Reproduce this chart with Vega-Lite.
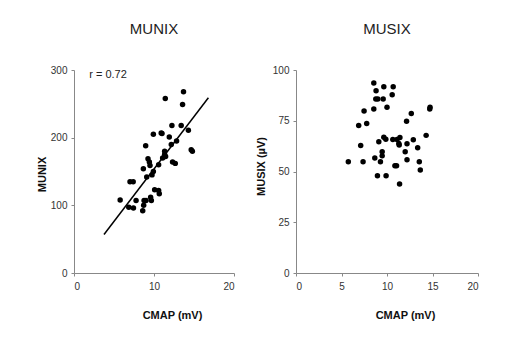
{
  "$schema": "https://vega.github.io/schema/vega-lite/v6.json",
  "background": "white",
  "padding": {"left": 36, "top": 22, "right": 10, "bottom": 10},
  "spacing": 20,
  "datasets": {
    "munix": [
      {"cmap": 5.77, "munix": 108}, {"cmap": 6.85, "munix": 97}, {"cmap": 7.43, "munix": 96},
      {"cmap": 7.0, "munix": 135}, {"cmap": 7.4, "munix": 135}, {"cmap": 7.76, "munix": 107},
      {"cmap": 8.59, "munix": 92}, {"cmap": 8.71, "munix": 100}, {"cmap": 8.76, "munix": 107},
      {"cmap": 9.0, "munix": 107}, {"cmap": 8.67, "munix": 154}, {"cmap": 8.96, "munix": 188},
      {"cmap": 9.09, "munix": 142}, {"cmap": 9.25, "munix": 169}, {"cmap": 9.42, "munix": 164},
      {"cmap": 9.5, "munix": 159}, {"cmap": 9.58, "munix": 112}, {"cmap": 9.67, "munix": 107},
      {"cmap": 9.75, "munix": 145}, {"cmap": 9.92, "munix": 150}, {"cmap": 9.92, "munix": 205},
      {"cmap": 10.08, "munix": 123}, {"cmap": 10.58, "munix": 122}, {"cmap": 10.66, "munix": 117},
      {"cmap": 10.58, "munix": 160}, {"cmap": 10.9, "munix": 207}, {"cmap": 11.0, "munix": 206},
      {"cmap": 11.08, "munix": 170}, {"cmap": 11.33, "munix": 180}, {"cmap": 11.33, "munix": 175},
      {"cmap": 11.45, "munix": 172}, {"cmap": 11.41, "munix": 258}, {"cmap": 11.91, "munix": 201},
      {"cmap": 12.16, "munix": 190}, {"cmap": 12.24, "munix": 218}, {"cmap": 12.32, "munix": 164},
      {"cmap": 12.66, "munix": 162}, {"cmap": 12.82, "munix": 195}, {"cmap": 13.4, "munix": 218},
      {"cmap": 13.57, "munix": 249}, {"cmap": 13.69, "munix": 268}, {"cmap": 14.3, "munix": 211},
      {"cmap": 14.65, "munix": 182}, {"cmap": 14.8, "munix": 180}
    ],
    "fit": [
      {"cmap": 3.75, "munix": 57}, {"cmap": 16.8, "munix": 259}
    ],
    "annot": [
      {"cmap": 1.9, "munix": 292, "label": "r = 0.72"}
    ],
    "musix": [
      {"cmap": 5.75, "musix": 54.8}, {"cmap": 6.89, "musix": 72.7}, {"cmap": 7.11, "musix": 62.8},
      {"cmap": 7.37, "musix": 54.8}, {"cmap": 7.48, "musix": 79.8}, {"cmap": 7.77, "musix": 73.7},
      {"cmap": 8.55, "musix": 93.6}, {"cmap": 8.55, "musix": 80.8}, {"cmap": 8.66, "musix": 56.7},
      {"cmap": 8.8, "musix": 89.8}, {"cmap": 8.77, "musix": 85.7}, {"cmap": 8.99, "musix": 85.7},
      {"cmap": 8.95, "musix": 47.9}, {"cmap": 9.1, "musix": 64.6}, {"cmap": 9.28, "musix": 54.8},
      {"cmap": 9.47, "musix": 59.7}, {"cmap": 9.47, "musix": 57.7}, {"cmap": 9.58, "musix": 85.7},
      {"cmap": 9.65, "musix": 91.8}, {"cmap": 9.65, "musix": 66.9}, {"cmap": 9.87, "musix": 65.9},
      {"cmap": 9.9, "musix": 47.9}, {"cmap": 10.0, "musix": 81.7}, {"cmap": 10.57, "musix": 87.8},
      {"cmap": 10.64, "musix": 65.8}, {"cmap": 10.68, "musix": 91.8}, {"cmap": 10.87, "musix": 52.8},
      {"cmap": 11.05, "musix": 52.8}, {"cmap": 11.1, "musix": 65.8}, {"cmap": 11.3, "musix": 63.8},
      {"cmap": 11.34, "musix": 63.0}, {"cmap": 11.42, "musix": 66.8}, {"cmap": 11.38, "musix": 43.8},
      {"cmap": 12.0, "musix": 59.7}, {"cmap": 12.15, "musix": 74.7}, {"cmap": 12.2, "musix": 55.8},
      {"cmap": 12.2, "musix": 63.7}, {"cmap": 12.67, "musix": 78.6}, {"cmap": 12.89, "musix": 65.6},
      {"cmap": 13.37, "musix": 61.7}, {"cmap": 13.55, "musix": 54.8}, {"cmap": 13.66, "musix": 50.7},
      {"cmap": 14.3, "musix": 67.8}, {"cmap": 14.73, "musix": 81.7}, {"cmap": 14.7, "musix": 80.8}
    ]
  },
  "hconcat": [
    {
      "width": 160,
      "height": 203,
      "title": {"text": "MUNIX"},
      "layer": [
        {
          "data": {"name": "munix"},
          "mark": {"type": "circle", "size": 30, "color": "black", "opacity": 1},
          "encoding": {
            "x": {"field": "cmap", "type": "quantitative", "scale": {"domain": [0, 20]},
              "axis": {"title": "CMAP (mV)", "values": [0, 5, 10, 15, 20], "titleX": 98, "titleY": 42}},
            "y": {"field": "munix", "type": "quantitative", "scale": {"domain": [0, 300]},
              "axis": {"title": "MUNIX", "values": [0, 100, 200, 300], "titleX": -32, "titleY": 104}}
          }
        },
        {
          "data": {"name": "fit"},
          "mark": {"type": "line", "color": "black", "strokeWidth": 1.5},
          "encoding": {
            "x": {"field": "cmap", "type": "quantitative"},
            "y": {"field": "munix", "type": "quantitative"}
          }
        },
        {
          "data": {"name": "annot"},
          "mark": {"type": "text", "align": "left", "baseline": "middle", "fontSize": 11, "font": "Liberation Sans", "color": "#222"},
          "encoding": {
            "x": {"field": "cmap", "type": "quantitative"},
            "y": {"field": "munix", "type": "quantitative"},
            "text": {"field": "label"}
          }
        }
      ]
    },
    {
      "width": 182,
      "height": 203,
      "title": {"text": "MUSIX"},
      "data": {"name": "musix"},
      "mark": {"type": "circle", "size": 30, "color": "black", "opacity": 1},
      "encoding": {
        "x": {"field": "cmap", "type": "quantitative", "scale": {"domain": [0, 20]},
          "axis": {"title": "CMAP (mV)", "values": [0, 5, 10, 15, 20], "titleX": 109, "titleY": 42}},
        "y": {"field": "musix", "type": "quantitative", "scale": {"domain": [0, 100]},
          "axis": {"title": "MUSIX (µV)", "values": [0, 25, 50, 75, 100], "titleX": -35, "titleY": 96}}
      }
    }
  ],
  "config": {
    "font": "Liberation Sans",
    "view": {"stroke": null},
    "title": {"fontSize": 15, "fontWeight": "normal", "color": "#222", "font": "Liberation Sans", "offset": 28, "anchor": "middle"},
    "axis": {
      "grid": false,
      "domainColor": "#888",
      "tickColor": "#888",
      "tickSize": 3,
      "labelFontSize": 10,
      "labelColor": "#333",
      "labelFont": "Liberation Sans",
      "titleFont": "Liberation Sans",
      "titleFontSize": 11,
      "titleFontWeight": "bold",
      "titleColor": "#111",
      "titleBaseline": "middle",
      "titleAlign": "center"
    },
    "axisX": {"labelPadding": 5},
    "axisY": {"labelPadding": 4}
  }
}
